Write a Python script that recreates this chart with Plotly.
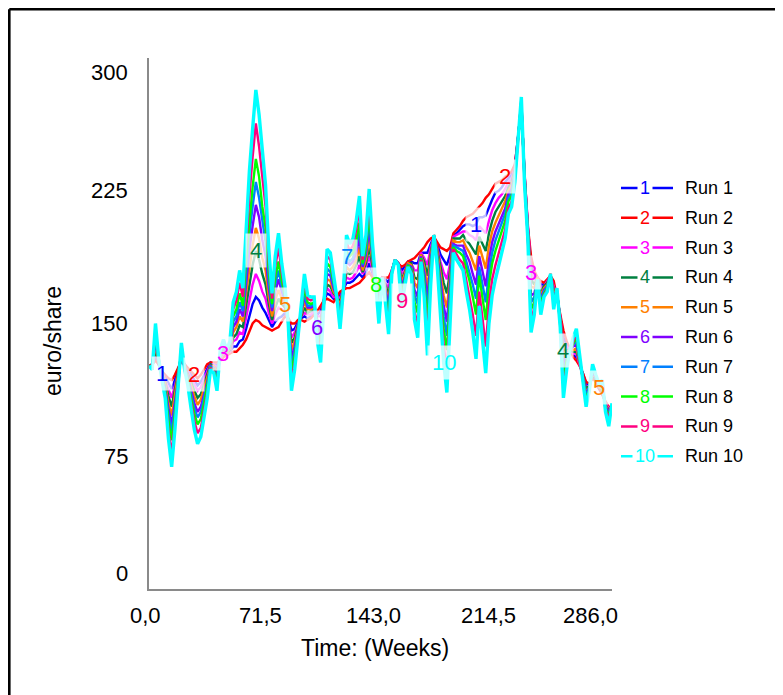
import plotly.graph_objects as go

weeks = list(range(0, 287, 2))

run1 = [126,127,131,127,122,120,116,113,118,124,
        130,127,124,121,118,115,117,121,125,128,
        127,126,130,132,132,134,137,137,140,141,
        147,154,161,165,163,159,156,152,148,151,
        153,154,156,153,146,147,151,153,154,153,
        154,156,155,157,163,167,166,164,165,166,
        169,173,173,174,176,178,176,179,184,178,
        173,172,176,175,173,180,186,184,180,182,
        185,185,184,184,190,190,190,195,199,195,
        189,186,183,189,200,201,203,205,206,206,
        205,206,210,210,211,216,220,224,225,227,
        230,232,234,239,255,273,234,204,184,178,
        176,172,172,174,177,172,166,154,142,138,
        135,132,131,127,122,116,116,120,117,113,
        111,105,102,101]
run2 = [126,127,129,127,123,121,119,118,121,125,
        129,127,125,123,121,119,121,124,127,128,
        128,128,129,131,132,133,134,134,136,138,
        141,145,150,152,151,149,148,147,146,147,
        148,151,154,153,150,150,152,152,151,152,
        153,155,157,160,163,164,163,162,165,168,
        169,170,170,171,172,173,175,177,179,176,
        173,174,176,176,176,180,186,184,182,183,
        185,186,187,189,191,193,196,198,199,196,
        193,192,191,193,201,203,205,208,210,211,
        212,214,216,218,221,223,226,229,230,231,
        233,234,236,240,255,272,235,205,188,180,
        176,174,173,175,177,174,165,155,146,140,
        135,131,129,126,122,117,116,119,117,113,
        110,106,103,101]
run3 = [126,126,133,128,122,118,112,108,115,122,
        131,126,123,119,115,112,114,119,123,127,
        127,125,130,133,133,134,140,141,145,144,
        154,163,172,178,174,168,164,156,150,155,
        159,158,157,152,142,145,150,154,156,155,
        155,157,154,154,163,170,168,165,165,164,
        169,176,175,176,179,183,178,182,188,180,
        173,169,176,173,170,180,186,184,178,180,
        184,184,180,180,190,187,183,193,199,193,
        185,179,175,184,199,200,201,202,202,200,
        199,197,205,203,201,208,214,218,221,223,
        226,230,232,238,255,273,234,204,179,175,
        176,170,171,174,177,171,166,154,138,137,
        135,133,133,127,121,114,115,121,118,114,
        112,105,102,102]
run4 = [126,126,135,128,121,117,109,103,112,121,
        132,126,122,117,112,108,110,116,121,127,
        126,123,131,134,133,135,142,144,149,148,
        160,172,183,191,186,178,172,161,152,159,
        164,161,159,152,139,142,149,154,159,156,
        157,158,152,150,163,172,171,167,165,162,
        169,179,178,179,183,188,179,184,193,182,
        173,167,176,172,166,179,186,184,175,179,
        184,184,176,175,189,185,177,190,199,192,
        182,173,167,180,198,198,198,200,197,195,
        192,189,199,195,191,201,208,213,216,219,
        222,227,230,237,255,274,233,203,175,172,
        176,168,171,173,177,169,167,153,135,135,
        135,134,134,128,121,113,115,121,118,114,
        112,104,101,102]
run5 = [126,126,137,128,121,116,105,98,109,120,
        133,126,121,115,109,104,107,113,119,126,
        126,122,131,135,133,136,145,148,154,151,
        167,181,194,204,198,187,180,165,154,163,
        169,164,161,152,135,140,148,155,162,158,
        158,159,150,147,163,175,174,168,165,160,
        169,182,180,182,186,193,180,186,198,184,
        173,164,176,170,163,179,186,184,173,178,
        184,183,173,170,189,182,170,188,199,191,
        178,166,159,176,197,196,196,197,193,190,
        185,180,194,188,181,194,202,207,211,215,
        219,225,228,236,255,274,232,202,171,170,
        176,166,170,172,177,168,167,152,131,134,
        135,135,136,128,120,111,114,122,119,114,
        113,104,100,103]
run6 = [126,125,140,129,120,114,102,93,105,118,
        134,125,120,112,105,100,103,110,117,126,
        125,120,132,136,134,137,148,151,158,154,
        173,191,205,217,210,197,188,170,157,168,
        175,168,163,151,131,137,147,156,165,159,
        159,160,148,144,163,178,177,170,165,157,
        168,185,183,185,190,198,182,189,203,186,
        172,162,176,169,160,179,186,184,171,176,
        183,182,169,165,188,179,164,185,199,189,
        174,160,151,171,195,194,194,194,189,185,
        178,172,188,180,171,186,196,202,206,210,
        215,223,226,235,255,275,231,201,166,167,
        175,164,169,171,177,166,168,151,127,132,
        135,137,138,129,120,110,114,123,119,115,
        114,103,100,103]
run7 = [126,125,142,129,120,113,99,89,102,117,
        135,125,119,110,102,97,100,108,116,126,
        124,118,133,137,134,137,151,154,162,157,
        179,200,216,230,221,207,196,174,159,172,
        180,171,164,151,127,134,146,157,167,160,
        160,161,147,141,164,181,179,172,165,155,
        168,188,185,187,194,202,183,191,207,188,
        172,160,176,168,157,179,186,183,169,175,
        183,181,166,161,187,176,158,182,200,188,
        170,154,143,167,194,193,192,191,185,179,
        172,164,182,172,162,179,190,197,202,206,
        212,221,224,234,255,276,231,201,162,165,
        175,163,168,171,178,164,168,151,123,130,
        135,138,140,130,120,109,114,124,119,115,
        115,102,99,103]
run8 = [126,125,144,129,119,112,95,84,99,116,
        136,125,118,108,99,93,96,105,114,125,
        124,117,133,138,134,138,154,158,167,160,
        186,209,227,243,233,216,204,179,161,176,
        185,174,166,151,123,132,145,158,170,162,
        161,162,145,138,164,184,182,173,165,153,
        168,191,188,190,197,207,184,193,212,190,
        172,157,176,166,154,179,186,183,167,174,
        183,180,162,156,187,173,151,180,200,187,
        166,147,135,163,193,191,190,188,181,174,
        165,155,177,165,152,172,184,191,197,202,
        208,219,222,233,255,276,230,200,158,162,
        175,161,167,170,178,163,169,150,119,129,
        135,139,142,130,119,107,113,125,120,115,
        116,102,98,104]
run9 = [126,124,147,130,119,110,90,76,95,114,
        138,124,116,105,95,88,91,101,111,125,
        123,114,134,140,135,139,158,163,173,165,
        195,222,244,263,250,231,216,185,164,182,
        193,179,168,150,118,128,143,159,174,164,
        163,164,143,133,164,188,186,176,165,150,
        168,196,191,194,203,215,186,197,219,193,
        172,154,176,164,149,178,186,183,163,172,
        182,179,157,149,186,169,142,176,200,185,
        161,138,123,156,192,189,186,184,174,166,
        155,143,168,153,137,161,175,183,190,196,
        203,215,219,231,255,277,229,199,151,159,
        175,158,166,169,178,160,169,149,114,126,
        135,140,144,131,119,105,113,126,120,116,
        117,101,97,104]
run10 = [126,124,150,130,118,108,85,69,90,112,
         139,124,115,102,90,82,86,97,108,124,
         122,112,135,141,135,140,162,168,180,170,
         205,236,260,282,268,245,228,192,167,188,
         201,184,171,150,112,124,142,160,178,166,
         165,165,140,128,164,192,190,178,165,147,
         168,200,195,198,208,222,188,200,226,196,
         172,150,176,162,144,178,186,183,160,170,
         182,178,152,142,185,165,132,172,200,183,
         155,128,111,150,190,186,183,180,168,158,
         145,130,160,142,122,150,166,175,183,190,
         198,212,216,230,255,278,228,198,145,155,
         175,155,165,168,178,158,170,148,108,124,
         135,142,147,132,118,103,112,127,121,116,
         118,100,92,105]

run_names = ["Run 1", "Run 2", "Run 3", "Run 4", "Run 5",
             "Run 6", "Run 7", "Run 8", "Run 9", "Run 10"]
run_ids = ["1", "2", "3", "4", "5", "6", "7", "8", "9", "10"]
colors = ["#0000FF", "#FF0000", "#FF00FF", "#008040", "#FF8000",
          "#8000FF", "#0080FF", "#00FF00", "#FF0080", "#00FFFF"]

# curve labels: which run, at which week
label_runs = [1, 2, 3, 4, 5, 6, 7, 8, 9, 10, 1, 2, 3, 4, 5]
label_weeks = [8, 28, 46, 66, 84, 104, 122, 140, 156, 182, 202, 220, 236, 256, 278]

x_tick_vals = [0, 71.5, 143, 214.5, 286]
x_tick_text = ["0,0", "71,5", "143,0", "214,5", "286,0"]
y_tick_vals = [0, 75, 150, 225, 300]
y_tick_text = ["0", "75", "150", "225", "300"]

runs = [run1, run2, run3, run4, run5, run6, run7, run8, run9, run10]

FONT = "Liberation Sans, Arial, sans-serif"
OFF = 8                      # page body margin
W, H = 830, 730              # figure larger than the window; right/bottom edges fall outside
PLOT_X0, PLOT_Y1 = 149, 589  # plot-area left / bottom in screen pixels
PW, PH = 463, 531
L, T = PLOT_X0 - OFF, PLOT_Y1 - PH - OFF
R, B = W - L - PW, H - T - PH


def px_to_paper_x(px):
    return (px - PLOT_X0) / PW


def py_to_paper_y(py):
    return (PLOT_Y1 - py) / PH


fig = go.Figure()
for i, vals in enumerate(runs):
    fig.add_trace(go.Scatter(
        x=weeks, y=vals, mode="lines", name=run_names[i],
        line=dict(color=colors[i], width=3.4 if i == 9 else 2.4),
        showlegend=False, hoverinfo="skip"))

annotations = []
shapes = []

# y tick labels
y_shift = {0: 16, 300: -14}
for v, t in zip(y_tick_vals, y_tick_text):
    annotations.append(dict(
        text=t, xref="paper", x=0, xanchor="right", xshift=-19,
        yref="y", y=v, yanchor="middle", yshift=y_shift.get(v, 0),
        showarrow=False, font=dict(size=22, color="black", family=FONT)))

# x tick labels
x_shift = [-4, -4, -7, -8, -22]
for v, t, s in zip(x_tick_vals, x_tick_text, x_shift):
    annotations.append(dict(
        text=t, xref="x", x=v, xanchor="center", xshift=s,
        yref="paper", y=0, yanchor="middle", yshift=-26,
        showarrow=False, font=dict(size=22, color="black", family=FONT)))

# axis titles
annotations.append(dict(
    text="Time: (Weeks)", xref="paper", x=px_to_paper_x(375), xanchor="center",
    yref="paper", y=0, yanchor="middle", yshift=-59, showarrow=False,
    font=dict(size=23, color="black", family=FONT)))
annotations.append(dict(
    text="euro/share", xref="paper", x=px_to_paper_x(53), xanchor="center",
    yref="paper", y=py_to_paper_y(341), yanchor="middle", textangle=-90,
    showarrow=False, font=dict(size=23, color="black", family=FONT)))

# labels on the curves
for r, w in zip(label_runs, label_weeks):
    idx = weeks.index(w)
    annotations.append(dict(
        text=run_ids[r - 1], xref="x", x=w, yref="y", y=runs[r - 1][idx],
        xanchor="center", yanchor="middle", showarrow=False,
        bgcolor="rgba(255,255,255,0.75)", borderpad=4,
        font=dict(size=22, color=colors[r - 1], family=FONT)))

# legend (drawn)
for i in range(10):
    py = 188 + 29.8 * i
    yp = py_to_paper_y(py)
    shapes.append(dict(type="line", xref="paper", yref="paper",
                       x0=px_to_paper_x(621), x1=px_to_paper_x(673), y0=yp, y1=yp,
                       line=dict(color=colors[i], width=2.5)))
    annotations.append(dict(
        text=run_ids[i], xref="paper", x=px_to_paper_x(645), xanchor="center",
        yref="paper", y=yp, yanchor="middle", showarrow=False,
        bgcolor="white", borderpad=2,
        font=dict(size=18, color=colors[i], family=FONT)))
    annotations.append(dict(
        text=run_names[i], xref="paper", x=px_to_paper_x(683), xanchor="left",
        yref="paper", y=yp, yanchor="middle", showarrow=False,
        font=dict(size=18, color="black", family=FONT)))

# outer frame: only the top and left edges fall inside the window
fx0, fy0 = px_to_paper_x(OFF + 1.3), py_to_paper_y(OFF + 1.3)
fx1, fy1 = px_to_paper_x(OFF + W), py_to_paper_y(OFF + H)
shapes.append(dict(type="line", xref="paper", yref="paper",
                   x0=fx0, x1=fx1, y0=fy0, y1=fy0,
                   line=dict(color="black", width=2.6)))
shapes.append(dict(type="line", xref="paper", yref="paper",
                   x0=fx0, x1=fx0, y0=fy0, y1=fy1,
                   line=dict(color="black", width=2.6)))

axis_common = dict(showline=True, linecolor="#8a8a8a", linewidth=2,
                   showgrid=False, zeroline=False, ticks="", showticklabels=False)

fig.update_layout(
    width=W, height=H,
    margin=dict(l=L, r=R, t=T, b=B, pad=0),
    paper_bgcolor="white", plot_bgcolor="white",
    font=dict(family=FONT),
    xaxis=dict(range=[0, 286], **axis_common),
    yaxis=dict(range=[0, 300], **axis_common),
    annotations=annotations, shapes=shapes,
    showlegend=False,
)

fig.write_html(
    "out.html",
    post_script="document.documentElement.style.overflow='hidden';"
                "document.body.style.overflow='hidden';",
)
